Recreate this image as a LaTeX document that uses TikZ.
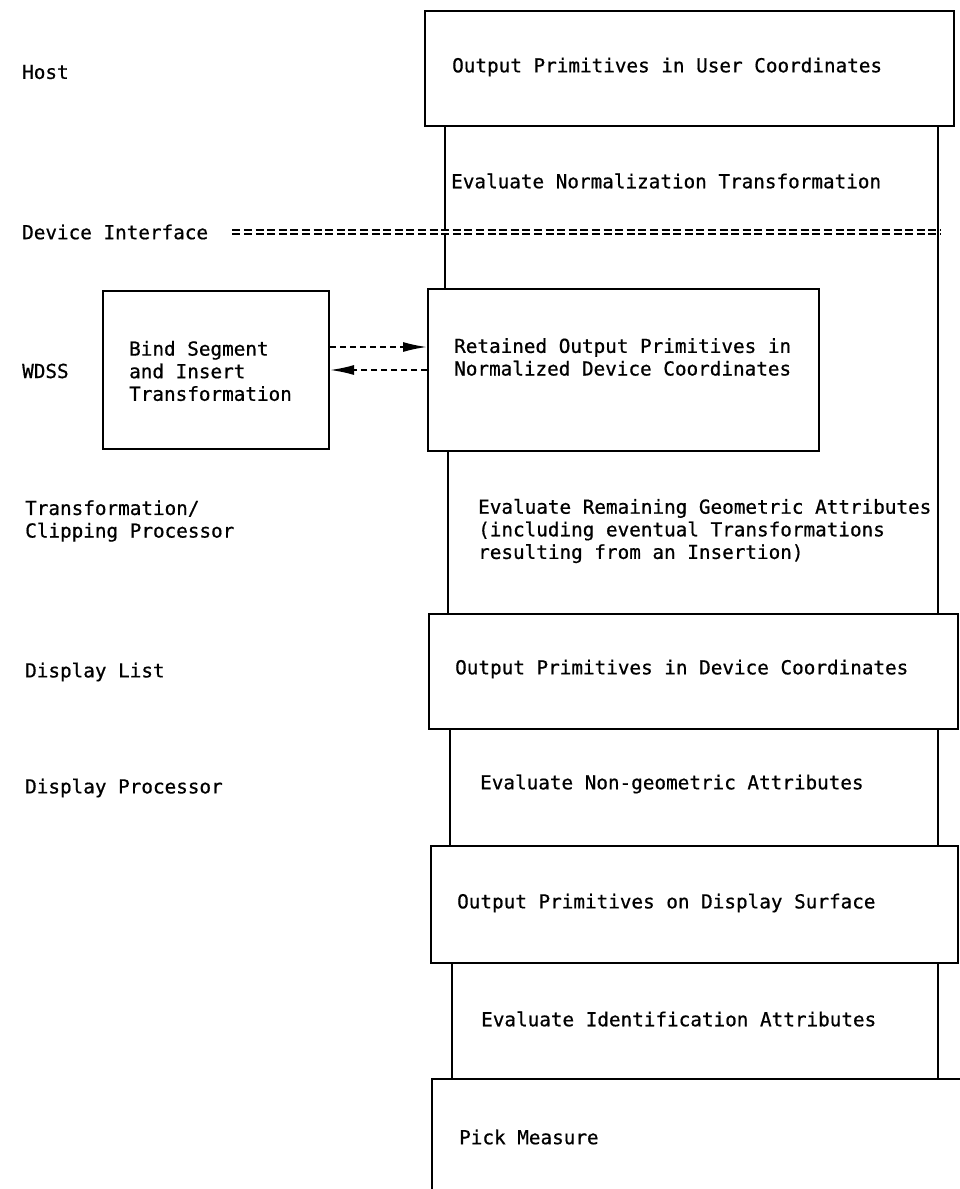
\documentclass[tikz,border=0pt]{standalone}
\usepackage{fontspec}
\newfontfamily\typew[FakeBold=0.7]{DejaVu Sans Mono}
\usepackage{tikz}
\usetikzlibrary{arrows.meta}

\tikzset{
        box/.style={draw, line width=2pt, rectangle, anchor=north west, inner sep=0pt},
        txt/.style={anchor=west, align=left, inner sep=0pt, font=\typew\fontsize{19.3}{22.6}\selectfont},
        col/.style={line width=2pt},
        dlink/.style={line width=1.8pt, dash pattern=on 6pt off 4pt, -{Latex[length=24pt,width=10pt]}},
        ifline/.style={double, double distance=2.8pt, line width=1.7pt, dash pattern=on 8pt off 3.6pt}
}

\begin{document}
\begin{tikzpicture}[x=1pt, y=-1pt]
        \useasboundingbox (0,0) rectangle (959,1189);

        \node[box, minimum width=529pt, minimum height=115pt] (usr) at (424,10) {};
        \node[box, minimum width=391pt, minimum height=162pt] (ret) at (427,288) {};
        \node[box, minimum width=226pt, minimum height=158pt] (bind) at (102,290) {};
        \node[box, minimum width=529pt, minimum height=115pt] (dl) at (428,613) {};
        \node[box, minimum width=527pt, minimum height=117pt] (ds) at (430,845) {};
        \node[box, minimum width=560pt, minimum height=140pt] (pick) at (431,1078) {};

        \node[txt] (usrtxt) at (452,67) {Output Primitives in User Coordinates};
        \node[txt] (normtxt) at (451,181) {Evaluate Normalization Transformation};
        \node[txt] (rettxt) at (454,357) {Retained Output Primitives in\\Normalized Device Coordinates};
        \node[txt] (bindtxt) at (129,371) {Bind Segment\\and Insert\\Transformation};
        \node[txt] (remtxt) at (478,531) {Evaluate Remaining Geometric Attributes\\(including eventual Transformations\\resulting from an Insertion)};
        \node[txt] (dltxt) at (455,669) {Output Primitives in Device Coordinates};
        \node[txt] (nongeotxt) at (480,784) {Evaluate Non-geometric Attributes};
        \node[txt] (dstxt) at (457,903) {Output Primitives on Display Surface};
        \node[txt] (identtxt) at (481,1019) {Evaluate Identification Attributes};
        \node[txt] (picktxt) at (459,1137) {Pick Measure};

        \node[txt] (host) at (22,72) {Host};
        \node[txt] (devif) at (22,232) {Device Interface};
        \node[txt] (wdss) at (22,371) {WDSS};
        \node[txt] (tcp) at (25,521) {Transformation/\\Clipping Processor};
        \node[txt] (dlist) at (25,672) {Display List};
        \node[txt] (dproc) at (25,788) {Display Processor};

        \coordinate (c1) at (445,0);
        \coordinate (c2) at (938,0);
        \coordinate (c3) at (448,0);
        \coordinate (c4) at (450,0);
        \coordinate (c5) at (452,0);
        \draw[col] (usr.south -| c1) -- (ret.north -| c1);
        \draw[col] (ret.south -| c3) -- (dl.north -| c3);
        \draw[col] (usr.south -| c2) -- (dl.north -| c2);
        \draw[col] (dl.south -| c4) -- (ds.north -| c4);
        \draw[col] (dl.south -| c2) -- (ds.north -| c2);
        \draw[col] (ds.south -| c5) -- (pick.north -| c5);
        \draw[col] (ds.south -| c2) -- (pick.north -| c2);

        \coordinate (ifend) at (940,0);
        \draw[ifline] ([xshift=24pt]devif.east) -- (devif.east -| ifend);

        \coordinate (a1) at (0,347);
        \coordinate (a2) at (0,370);
        \draw[dlink] (bind.east |- a1) -- (ret.west |- a1);
        \draw[dlink] (ret.west |- a2) -- (bind.east |- a2);
\end{tikzpicture}
\end{document}
